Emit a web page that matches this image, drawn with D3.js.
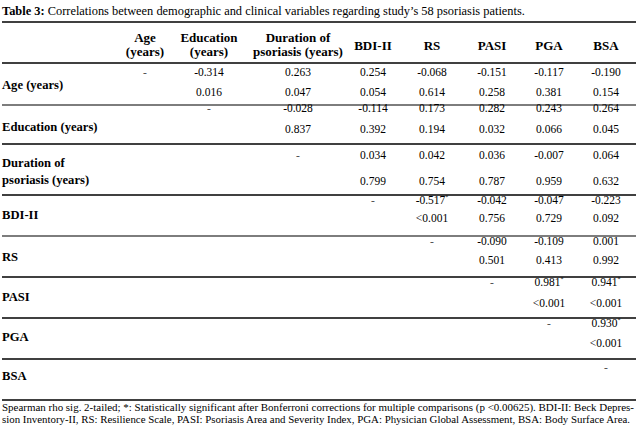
<!DOCTYPE html>
<html>
<head>
<meta charset="utf-8">
<script src="https://cdn.jsdelivr.net/npm/d3@7"></script>
<style>
  body { margin: 0; background: #fff; }
  svg { display: block; font-family: "Liberation Serif", "Times New Roman", serif; }
</style>
</head>
<body>
<div id="chart"></div>
<script>
"use strict";

// Table data
const title = "Correlations between demographic and clinical variables regarding study\u2019s 58 psoriasis patients.";
const columnKeys = ["Age", "Education", "Duration", "BDI-II", "RS", "PASI", "PGA", "BSA"];
const columnHeaders = [["Age", "(years)"], ["Education", "(years)"], ["Duration of", "psoriasis (years)"],
  ["BDI-II"], ["RS"], ["PASI"], ["PGA"], ["BSA"]];
const rowLabels = [["Age (years)"], ["Education (years)"], ["Duration of", "psoriasis (years)"],
  ["BDI-II"], ["RS"], ["PASI"], ["PGA"], ["BSA"]];

// rho per row, starting right of the diagonal ("-")
const rhoAge = [-0.314, 0.263, 0.254, -0.068, -0.151, -0.117, -0.190];
const rhoEducation = [-0.028, -0.114, 0.173, 0.282, 0.243, 0.264];
const rhoDuration = [0.034, 0.042, 0.036, -0.007, 0.064];
const rhoBDI = [-0.517, -0.042, -0.047, -0.223];
const rhoRS = [-0.090, -0.109, 0.001];
const rhoPASI = [0.981, 0.941];
const rhoPGA = [0.930];
const rhoBSA = [];

const pAge = ["0.016", "0.047", "0.054", "0.614", "0.258", "0.381", "0.154"];
const pEducation = ["0.837", "0.392", "0.194", "0.032", "0.066", "0.045"];
const pDuration = ["0.799", "0.754", "0.787", "0.959", "0.632"];
const pBDI = ["<0.001", "0.756", "0.729", "0.092"];
const pRS = ["0.501", "0.413", "0.992"];
const pPASI = ["<0.001", "<0.001"];
const pPGA = ["<0.001"];
const pBSA = [];

const significantPairs = [["BDI-II", "RS"], ["PASI", "PGA"], ["PASI", "BSA"], ["PGA", "BSA"]];

const footnote = [
  "Spearman rho sig. 2-tailed; *: Statistically significant after Bonferroni corrections for multiple comparisons (p <0.00625). BDI-II: Beck Depres-",
  "sion Inventory-II, RS: Resilience Scale, PASI: Psoriasis Area and Severity Index, PGA: Physician Global Assessment, BSA: Body Surface Area."
];

const rhoRows = [rhoAge, rhoEducation, rhoDuration, rhoBDI, rhoRS, rhoPASI, rhoPGA, rhoBSA];
const pRows = [pAge, pEducation, pDuration, pBDI, pRS, pPASI, pPGA, pBSA];

function _main() {
  const WIDTH = 638;
  const HEIGHT = 431;
  const LEFT = 2;
  const RIGHT = 636;

  const svg = d3.select("#chart").append("svg").attr("width", WIDTH).attr("height", HEIGHT);

  // Column centres and row boundaries
  const xScale = d3.scaleOrdinal()
    .domain(columnKeys)
    .range([145, 209, 298, 373, 432, 492, 549, 606]);
  const rowBounds = [63, 105, 144, 195, 236, 277, 318, 359, 400];
  const rowTop = d3.scaleOrdinal().domain(columnKeys).range(rowBounds.slice(0, 8));
  const rowBottom = d3.scaleOrdinal().domain(columnKeys).range(rowBounds.slice(1));
  // baseline offsets of the rho line, p line and label inside each row
  const rhoOffset = d3.scaleOrdinal().domain(columnKeys).range([13, 7, 15, 9, 9, 9, 9, 12]);
  const pOffset = d3.scaleOrdinal().domain(columnKeys).range([33, 28, 41, 27, 28, 30, 29, 32]);
  const labelOffset = d3.scaleOrdinal().domain(columnKeys).range([26, 26, 23, 24, 25, 24, 23, 21]);
  const grayRows = ["Age", "BDI-II"];

  // Title
  const t = svg.append("text").attr("x", LEFT).attr("y", 15).attr("font-size", "12.4px");
  t.append("tspan").attr("font-weight", "bold").text("Table 3: ");
  t.append("tspan").text(title);

  // Top line and header line
  svg.append("line").attr("x1", LEFT).attr("x2", RIGHT).attr("y1", 22).attr("y2", 22)
    .attr("stroke", "#000").attr("stroke-width", 1.5);
  svg.append("line").attr("x1", LEFT).attr("x2", RIGHT).attr("y1", 63).attr("y2", 63)
    .attr("stroke", "#000").attr("stroke-width", 1.5);

  // Header labels
  columnHeaders.forEach((lines, i) => {
    const key = columnKeys[i];
    const y0 = lines.length === 2 ? 42 : 50;
    lines.forEach((line, j) => {
      svg.append("text")
        .attr("x", xScale(key))
        .attr("y", y0 + j * 14)
        .attr("text-anchor", "middle")
        .attr("font-weight", "bold")
        .attr("font-size", "13px")
        .text(line);
    });
  });

  // Row separators
  columnKeys.forEach((key) => {
    const gray = grayRows.includes(key);
    svg.append("line")
      .attr("x1", LEFT).attr("x2", RIGHT)
      .attr("y1", rowBottom(key)).attr("y2", rowBottom(key))
      .attr("stroke", gray ? "#7d7d7d" : "#000")
      .attr("stroke-width", gray ? 2 : 1.5);
  });

  // Row labels
  rowLabels.forEach((lines, i) => {
    const key = columnKeys[i];
    lines.forEach((line, j) => {
      svg.append("text")
        .attr("x", LEFT)
        .attr("y", rowTop(key) + labelOffset(key) + j * 17)
        .attr("font-weight", "bold")
        .attr("font-size", "12.6px")
        .text(line);
    });
  });

  // Cells
  const fmt = d3.formatLocale({ decimal: ".", thousands: ",", grouping: [3], currency: ["", ""], minus: "-" })
    .format(".3f");
  const isSig = (a, b) => significantPairs.some((p) => p[0] === a && p[1] === b);
  rhoRows.forEach((rhos, i) => {
    const rowKey = columnKeys[i];
    const y1 = rowTop(rowKey) + rhoOffset(rowKey);
    const y2 = rowTop(rowKey) + pOffset(rowKey);
    // diagonal dash
    svg.append("text")
      .attr("x", xScale(rowKey)).attr("y", y1)
      .attr("text-anchor", "middle").attr("font-size", "11.5px").attr("fill", "#555")
      .text("-");
    rhos.forEach((rho, j) => {
      const colKey = columnKeys[i + 1 + j];
      const cell = svg.append("text")
        .attr("x", xScale(colKey)).attr("y", y1)
        .attr("text-anchor", "middle").attr("font-size", "11.5px")
        .text(fmt(rho));
      if (isSig(rowKey, colKey)) {
        cell.append("tspan").attr("font-size", "6px").attr("dy", -5).text("*");
      }
      svg.append("text")
        .attr("x", xScale(colKey)).attr("y", y2)
        .attr("text-anchor", "middle").attr("font-size", "11.5px")
        .text(pRows[i][j]);
    });
  });

  // Footnote
  footnote.forEach((line, i) => {
    svg.append("text")
      .attr("x", LEFT)
      .attr("y", 411 + i * 12)
      .attr("font-size", "9.8px")
      .attr("textLength", i === 0 ? 632 : 628)
      .attr("lengthAdjust", "spacingAndGlyphs")
      .text(line);
  });
}

_main();
</script>
</body>
</html>
